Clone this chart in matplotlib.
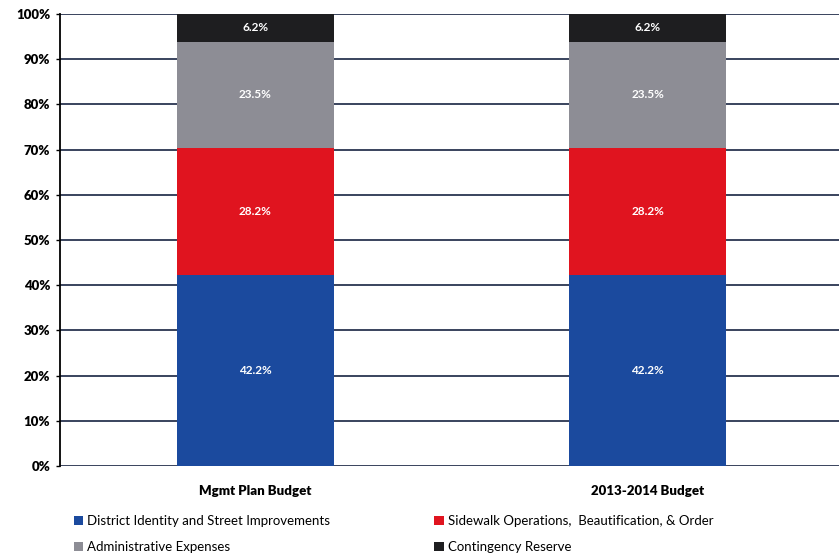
import matplotlib.pyplot as plt
from matplotlib.patches import Patch
import numpy as np

plt.rcParams['font.family'] = ['Lato', 'DejaVu Sans']

budgets = ['Mgmt Plan Budget', '2013-2014 Budget']
categories = ['District Identity and Street Improvements',
              'Sidewalk Operations,  Beautification, & Order',
              'Administrative Expenses',
              'Contingency Reserve']
shares = {
    'District Identity and Street Improvements': [42.2, 42.2],
    'Sidewalk Operations,  Beautification, & Order': [28.2, 28.2],
    'Administrative Expenses': [23.5, 23.5],
    'Contingency Reserve': [6.2, 6.2],
}
colors = ['#1b4a9e', '#e0141f', '#8d8d95', '#1e1e20']
yticks = [0, 10, 20, 30, 40, 50, 60, 70, 80, 90, 100]

fig = plt.figure(figsize=(8.39, 5.58), dpi=100)
ax = fig.add_axes([60 / 839, 92 / 558, 779 / 839, 452 / 558])

x = np.arange(len(budgets))
bottom = np.zeros(len(budgets))
for cat, col in zip(categories, colors):
    vals = np.array(shares[cat])
    ax.bar(x, vals, 0.40, bottom=bottom, color=col, zorder=3)
    for xi, b, v in zip(x, bottom, vals):
        ax.text(xi, b + v / 2, f'{v:.1f}%', ha='center', va='center',
                color='white', fontsize=8.5, fontweight='bold', zorder=4)
    bottom += vals

ax.set_xlim(-0.4987, 1.4885)
ax.set_ylim(0, 100)
ax.set_yticks(yticks)
ax.set_yticklabels([f'{t}%' for t in yticks], fontsize=9.5, fontweight='heavy')
ax.set_xticks(x)
ax.set_xticklabels(budgets, fontsize=9.5, fontweight='heavy')
ax.tick_params(axis='y', length=3, width=1, pad=4)
ax.tick_params(axis='x', length=0, pad=14)
ax.grid(axis='y', color='#2a3550', linewidth=1.3, zorder=1)
for s in ['top', 'right', 'bottom']:
    ax.spines[s].set_visible(False)
ax.spines['left'].set_linewidth(1.3)

order = [0, 2, 1, 3]
handles = [Patch(facecolor=colors[i], label=categories[i]) for i in order]
fig.legend(handles=handles, loc='upper left', bbox_to_anchor=(62 / 839, 1 - 503 / 558),
           ncol=2, frameon=False, fontsize=9.5, handlelength=0.7, handleheight=0.7,
           handletextpad=0.3, columnspacing=7.9, labelspacing=1.1)

fig.savefig('out.png', dpi=100)
